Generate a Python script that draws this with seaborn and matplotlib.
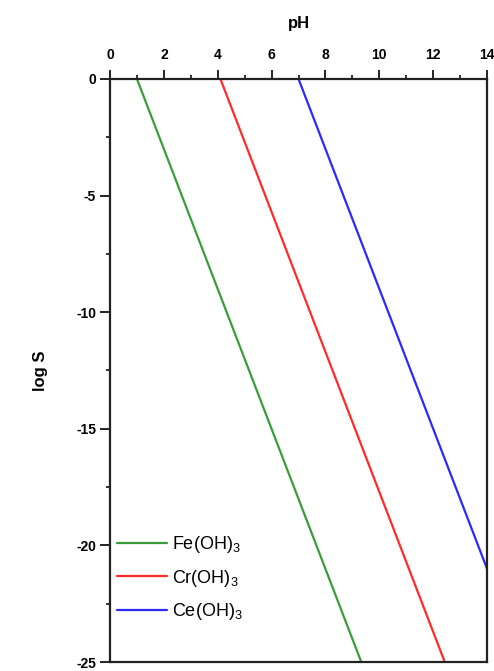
import matplotlib
matplotlib.use("Agg")
import matplotlib.pyplot as plt
import seaborn as sns
import pandas as pd
from matplotlib.ticker import MultipleLocator

# Data (endpoints)
fe_ph = [1.0, 9.33]
fe_logs = [0.0, -25.0]
cr_ph = [4.1, 12.43]
cr_logs = [0.0, -25.0]
ce_ph = [7.0, 14.0]
ce_logs = [0.0, -21.0]
series_names = ["Fe(OH)$_3$", "Cr(OH)$_3$", "Ce(OH)$_3$"]
colors = ["#3c9c3c", "#ff2a2a", "#2a2aff"]
x_ticks = [0, 2, 4, 6, 8, 10, 12, 14]
y_ticks = [0, -5, -10, -15, -20, -25]

sns.set_style("white")
plt.rcParams['font.family'] = ['Liberation Sans', 'DejaVu Sans']
plt.rcParams['mathtext.fontset'] = 'custom'
plt.rcParams['mathtext.rm'] = 'Liberation Sans'
plt.rcParams['axes.unicode_minus'] = False
plt.rcParams['text.color'] = 'black'

df = pd.concat([
    pd.DataFrame({"pH": fe_ph, "logS": fe_logs, "name": series_names[0]}),
    pd.DataFrame({"pH": cr_ph, "logS": cr_logs, "name": series_names[1]}),
    pd.DataFrame({"pH": ce_ph, "logS": ce_logs, "name": series_names[2]}),
])

fig = plt.figure(figsize=(4.94, 6.71), dpi=100)
ax = fig.add_axes([0.2227, 0.0134, 0.7632, 0.8689])
sns.lineplot(data=df, x="pH", y="logS", hue="name", palette=colors,
             linewidth=1.6, ax=ax, sort=False)

ax.set_xlim(0, 14)
ax.set_ylim(-25, 0)
ax.xaxis.set_ticks_position('top')
ax.xaxis.set_label_position('top')
ax.set_xticks(x_ticks)
ax.set_yticks(y_ticks)
ax.xaxis.set_minor_locator(MultipleLocator(1))
ax.yaxis.set_minor_locator(MultipleLocator(2.5))
ax.tick_params(axis='x', which='major', direction='out', length=6.5, width=1.4,
               labelsize=10, pad=6, top=True, bottom=False, colors='#222222',
               labelcolor='black')
ax.tick_params(axis='x', which='minor', direction='out', length=3, width=1.3,
               top=True, bottom=False, colors='#222222')
ax.tick_params(axis='y', which='major', direction='out', length=7, width=1.4,
               labelsize=10, pad=3, left=True, right=False, colors='#222222',
               labelcolor='black')
ax.tick_params(axis='y', which='minor', direction='out', length=3, width=1.3,
               left=True, right=False, colors='#222222')
for lab in ax.get_xticklabels() + ax.get_yticklabels():
    lab.set_fontweight('bold')
for sp in ax.spines.values():
    sp.set_visible(True)
    sp.set_linewidth(1.6)
    sp.set_color('#222222')

ax.set_xlabel("pH", fontsize=12, fontweight='bold', labelpad=14, color='black')
ax.set_ylabel("log S", fontsize=12, fontweight='bold', labelpad=20, color='black')

leg = ax.legend(loc='center left', frameon=False, fontsize=13,
                handlelength=2.75, handletextpad=0.3, labelspacing=0.68,
                borderpad=0, borderaxespad=0, bbox_to_anchor=(0.0186, 0.144))
for line in leg.get_lines():
    line.set_linewidth(1.6)
for t in leg.get_texts():
    t.set_color('black')

fig.savefig("out.png", dpi=100)
